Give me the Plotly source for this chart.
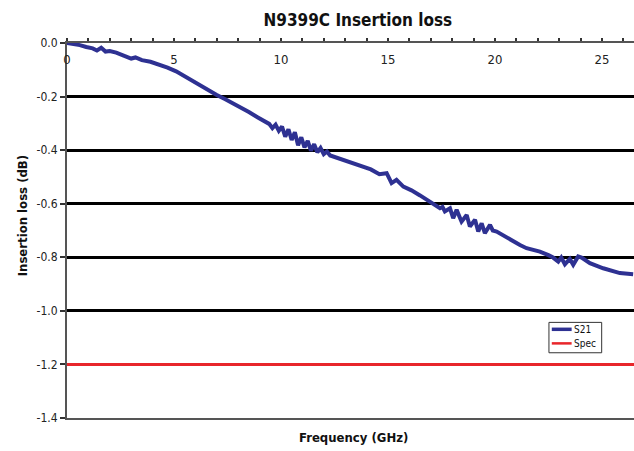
import plotly.graph_objects as go

# S21 insertion loss (GHz, dB)
freq_ghz = [0.0, 0.3, 0.6, 0.9, 1.2, 1.4, 1.6, 1.8, 2.0, 2.3, 2.6, 2.8, 3.0, 3.2, 3.5, 3.9,
            4.3, 4.7, 5.1, 5.5, 5.9, 6.3, 6.7, 7.0, 7.4, 7.8, 8.1, 8.5, 8.9, 9.3,
            9.45, 9.6, 9.75, 9.9, 10.05, 10.2, 10.35, 10.5, 10.65, 10.8, 10.95, 11.1,
            11.25, 11.4, 11.55, 11.7, 11.85, 12.0, 12.15, 12.3,
            12.6, 12.8, 13.1, 13.4, 13.8, 14.2, 14.6, 14.94, 15.17, 15.4, 15.72, 16.1, 16.5,
            16.9, 17.2, 17.43, 17.55, 17.66, 17.9, 18.05, 18.21, 18.44, 18.68, 18.83, 19.07,
            19.22, 19.38, 19.53, 19.77, 19.9, 20.08, 20.5, 20.86, 21.17, 21.48, 22.1, 22.5,
            22.72, 22.96, 23.1, 23.27, 23.5, 23.66, 23.89, 24.05, 24.44, 25.06, 25.5, 25.84,
            26.46]
s21_db = [0.000, -0.003, -0.008, -0.015, -0.020, -0.028, -0.018, -0.032, -0.030, -0.036,
          -0.044, -0.050, -0.058, -0.054, -0.064, -0.070, -0.080, -0.092, -0.106, -0.125,
          -0.143, -0.160, -0.180, -0.194, -0.210, -0.226, -0.240, -0.258, -0.277, -0.297,
          -0.302, -0.318, -0.305, -0.328, -0.312, -0.350, -0.322, -0.362, -0.333, -0.382,
          -0.352, -0.390, -0.365, -0.402, -0.378, -0.408, -0.392, -0.415, -0.405, -0.420,
          -0.428, -0.432, -0.440, -0.449, -0.460, -0.472, -0.490, -0.486, -0.523, -0.511,
          -0.536, -0.550, -0.569, -0.588, -0.602, -0.617, -0.612, -0.629, -0.617, -0.654,
          -0.623, -0.667, -0.642, -0.685, -0.660, -0.704, -0.673, -0.710, -0.679, -0.700,
          -0.704, -0.724, -0.741, -0.754, -0.766, -0.779, -0.792, -0.801, -0.816, -0.801,
          -0.826, -0.806, -0.828, -0.797, -0.801, -0.822, -0.841, -0.850, -0.859, -0.863]

spec_freq = [0.0, 26.5]
spec_db = [-1.2, -1.2]

series_names = ["S21", "Spec"]
series_colors = ["#2E3192", "#E8262B"]

x_range = [0, 26.5]
x_tickvals = list(range(0, 27))
x_label_vals = [0, 5, 10, 15, 20, 25]
x_label_text = ["0", "5", "10", "15", "20", "25"]
y_tickvals = [-1.4, -1.2, -1.0, -0.8, -0.6, -0.4, -0.2, 0.0]
y_ticktext = ["-1.4", "-1.2", "-1.0", "-0.8", "-0.6", "-0.4", "-0.2", "0.0"]

FONT = "DejaVu Sans Condensed, Liberation Sans Narrow, sans-serif"

fig = go.Figure()
fig.add_trace(go.Scatter(x=spec_freq, y=spec_db, mode="lines", name=series_names[1],
                         xaxis="x2", line=dict(color=series_colors[1], width=3)))
fig.add_trace(go.Scatter(x=freq_ghz, y=s21_db, mode="lines", name=series_names[0],
                         line=dict(color=series_colors[0], width=4)))

# small boxed legend (lower right), built from paper-coordinate shapes and texts
legend_shapes = [
    dict(type="rect", xref="paper", yref="paper", x0=0.850, x1=0.943, y0=0.174, y1=0.255,
         fillcolor="white", line=dict(color="#333", width=1), layer="above"),
    dict(type="line", xref="paper", yref="paper", x0=0.855, x1=0.890, y0=0.2365, y1=0.2365,
         line=dict(color=series_colors[0], width=3.5), layer="above"),
    dict(type="line", xref="paper", yref="paper", x0=0.855, x1=0.890, y0=0.199, y1=0.199,
         line=dict(color=series_colors[1], width=2.5), layer="above"),
]
legend_texts = [
    dict(text=series_names[0], x=0.891, y=0.2365, xref="paper", yref="paper",
         xanchor="left", yanchor="middle", showarrow=False,
         font=dict(family=FONT, size=10, color="#111")),
    dict(text=series_names[1], x=0.891, y=0.199, xref="paper", yref="paper",
         xanchor="left", yanchor="middle", showarrow=False,
         font=dict(family=FONT, size=10, color="#111")),
]

fig.update_layout(
    template="none",
    width=634, height=451,
    margin=dict(l=67, r=0, t=43, b=33, autoexpand=False),
    paper_bgcolor="white", plot_bgcolor="white",
    font=dict(family=FONT, size=12, color="#222"),
    title=dict(text="<b>N9399C Insertion loss</b>", x=0.513, xref="paper",
               y=0.955, yref="container", xanchor="center", yanchor="middle",
               font=dict(family=FONT, size=17, color="#111")),
    showlegend=False,
    xaxis=dict(range=x_range, side="top", tickvals=x_tickvals, showticklabels=False,
               ticks="outside", ticklen=3, tickwidth=1.5, tickcolor="#333",
               showgrid=False, zeroline=False, automargin=False,
               showline=True, linecolor="#555", linewidth=2, mirror=True),
    xaxis2=dict(range=x_range, overlaying="x", anchor="free", position=1.0, side="bottom",
                tickvals=x_label_vals, ticktext=x_label_text,
                ticks="outside", ticklen=4, tickcolor="rgba(0,0,0,0)", showline=False,
                showgrid=False, zeroline=False, automargin=False,
                tickfont=dict(family=FONT, size=13, color="#222")),
    yaxis=dict(range=[-1.4, 0], tickvals=y_tickvals, ticktext=y_ticktext,
               ticks="outside", ticklen=5, tickwidth=1.5, tickcolor="#333",
               showgrid=True, gridcolor="black", gridwidth=2.5, zeroline=False,
               showline=True, linecolor="#555", linewidth=2, automargin=False,
               tickfont=dict(family=FONT, size=12, color="#222")),
    shapes=legend_shapes,
    annotations=[
        dict(text="<b>Frequency (GHz)</b>", x=0.505, y=-0.053, xref="paper", yref="paper",
             xanchor="center", yanchor="middle", showarrow=False,
             font=dict(family=FONT, size=13, color="#111")),
        dict(text="<b>Insertion loss (dB)</b>", x=-0.078, y=0.54, xref="paper", yref="paper",
             xanchor="center", yanchor="middle", showarrow=False, textangle=-90,
             font=dict(family=FONT, size=13, color="#111")),
    ] + legend_texts,
)

fig.write_html("out.html", config={"displayModeBar": False},
               post_script="document.body.style.margin='0px';")
